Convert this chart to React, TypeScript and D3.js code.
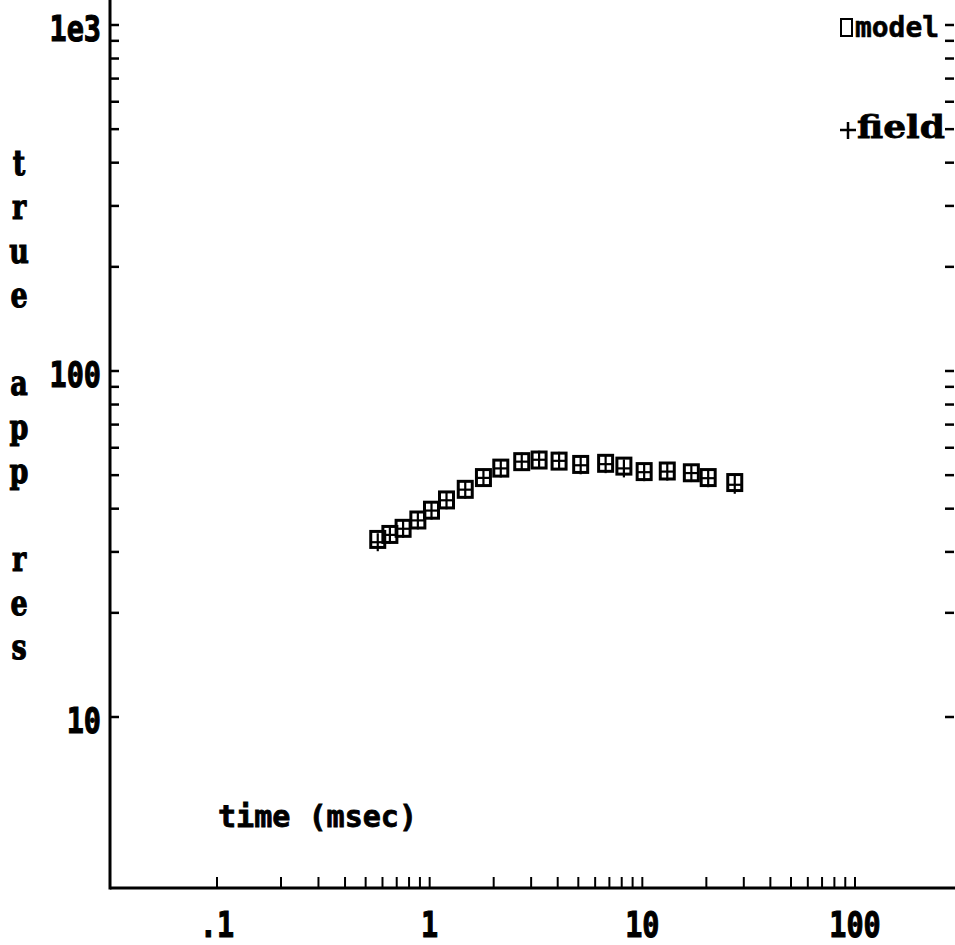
import React from "react";
import * as d3 from "d3";

// Sounding gate times (msec) and apparent resistivity values
const times = [0.57, 0.65, 0.75, 0.88, 1.02, 1.2, 1.47, 1.79, 2.16, 2.71, 3.27, 4.06, 5.13, 6.72, 8.19, 10.2, 13.1, 17.0, 20.4, 27.2];
const modelRes = [32.6, 33.7, 35.1, 37.1, 39.6, 42.4, 45.5, 49.2, 52.4, 54.7, 55.3, 54.9, 53.7, 54.1, 53.1, 51.2, 51.4, 50.8, 49.2, 47.6];
const fieldRes = [32.0, 33.6, 35.0, 37.0, 39.5, 42.3, 45.4, 49.1, 52.3, 54.7, 55.4, 55.0, 53.4, 53.8, 52.3, 51.0, 51.2, 50.7, 49.0, 46.9];

const xTickValues = [0.1, 1, 10, 100];
const xTickLabels = [".1", "1", "10", "100"];
const yTickValues = [10, 100, 1000];
const yTickLabels = ["10", "100", "1e3"];

const xTitle = "time (msec)";
const yTitle = "true app res";
const legendLabels = ["model", "field"];

const W = 955;
const H = 945;
const frameLeft = 110;
const frameRight = 954;
const frameTop = 0;
const frameBottom = 888;

const mono = "'DejaVu Sans Mono', monospace";
const serif = "'DejaVu Serif', serif";

export default function App() {
  const x = d3.scaleLog().domain([0.1, 100]).range([217, 855]);
  const y = d3.scaleLog().domain([10, 1000]).range([717, 25]);

  const xMinor = x.ticks();
  const yMinor = y.ticks();

  return (
    <svg
      width={W}
      height={H}
      viewBox={`0 0 ${W} ${H}`}
      style={{ position: "absolute", left: 0, top: 0, background: "#fff" }}
    >
      <rect x={0} y={0} width={W} height={H} fill="#fff" />

      {/* frame */}
      <line x1={frameLeft} y1={frameTop} x2={frameLeft} y2={frameBottom + 1.5} stroke="#000" strokeWidth={3} />
      <line x1={frameLeft} y1={frameBottom} x2={W} y2={frameBottom} stroke="#000" strokeWidth={3} />

      {/* x ticks */}
      {xMinor.map((v, i) => (
        <line key={"xt" + i} x1={x(v)} x2={x(v)} y1={frameBottom} y2={frameBottom - 11} stroke="#000" strokeWidth={2} />
      ))}
      {xTickValues.map((v, i) => (
        <text
          key={"xl" + i}
          transform={`translate(${x(v)},${937}) scale(1,1.27)`}
          textAnchor="middle"
          fontFamily={mono}
          fontWeight="bold"
          fontSize={28.5}
          fill="#000"
          stroke="#000"
          strokeWidth={0.9}
        >
          {xTickLabels[i]}
        </text>
      ))}

      {/* y ticks, left and right */}
      {yMinor.map((v, i) => (
        <g key={"yt" + i}>
          <line x1={frameLeft} x2={frameLeft + 9} y1={y(v)} y2={y(v)} stroke="#000" strokeWidth={2.5} />
          <line x1={frameRight} x2={frameRight - 9} y1={y(v)} y2={y(v)} stroke="#000" strokeWidth={2.5} />
        </g>
      ))}
      {yTickValues.map((v, i) => (
        <text
          key={"yl" + i}
          transform={`translate(${101},${y(v) + 16}) scale(1,1.27)`}
          textAnchor="end"
          fontFamily={mono}
          fontWeight="bold"
          fontSize={28.5}
          fill="#000"
          stroke="#000"
          strokeWidth={0.9}
        >
          {yTickLabels[i]}
        </text>
      ))}

      {/* axis titles */}
      <text
        x={218}
        y={827}
        fontFamily={mono}
        fontWeight="bold"
        fontSize={30}
        textLength={199}
        lengthAdjust="spacingAndGlyphs"
        fill="#000"
        stroke="#000"
        strokeWidth={0.8}
      >
        {xTitle}
      </text>
      {yTitle.split("").map((ch, i) =>
        ch === " " ? null : (
          <text
            key={"yc" + i}
            transform={`translate(19,${175 + 44 * i}) scale(1,1.3)`}
            textAnchor="middle"
            fontFamily={serif}
            fontWeight="bold"
            fontSize={27}
            fill="#000"
            stroke="#000"
            strokeWidth={0.9}
          >
            {ch}
          </text>
        )
      )}

      {/* legend */}
      <rect x={841} y={19} width={11} height={17} fill="none" stroke="#000" strokeWidth={2} />
      <text
        x={855}
        y={37}
        fontFamily={mono}
        fontWeight="bold"
        fontSize={28}
        textLength={84}
        lengthAdjust="spacingAndGlyphs"
        fill="#000"
        stroke="#000"
        strokeWidth={0.6}
      >
        {legendLabels[0]}
      </text>
      <line x1={840} x2={856} y1={130} y2={130} stroke="#000" strokeWidth={2.5} />
      <line x1={848} x2={848} y1={122} y2={139} stroke="#000" strokeWidth={2.5} />
      <text
        transform="translate(857,138) scale(1,1.25)"
        fontFamily={serif}
        fontWeight="bold"
        fontSize={26}
        textLength={88}
        lengthAdjust="spacingAndGlyphs"
        fill="#000"
        stroke="#000"
        strokeWidth={0.6}
      >
        {legendLabels[1]}
      </text>

      {/* model: open squares */}
      {times.map((t, i) => (
        <rect
          key={"m" + i}
          x={x(t) - 7}
          y={y(modelRes[i]) - 8}
          width={14}
          height={16}
          fill="none"
          stroke="#000"
          strokeWidth={3}
        />
      ))}
      {/* field: plus signs */}
      {times.map((t, i) => (
        <g key={"f" + i}>
          <line x1={x(t) - 7} x2={x(t) + 7} y1={y(fieldRes[i])} y2={y(fieldRes[i])} stroke="#000" strokeWidth={2.2} />
          <line x1={x(t)} x2={x(t)} y1={y(fieldRes[i]) - 9} y2={y(fieldRes[i]) + 9} stroke="#000" strokeWidth={2.2} />
        </g>
      ))}
    </svg>
  );
}
